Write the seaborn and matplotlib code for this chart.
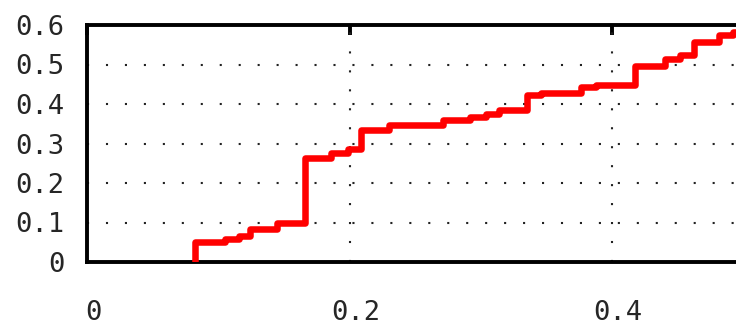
import matplotlib
matplotlib.use("Agg")
import matplotlib.pyplot as plt
from matplotlib.transforms import ScaledTranslation
import seaborn as sns
import pandas as pd

# Step curve: x positions of each jump and the level reached after it
jump_x = [0.082, 0.105, 0.116, 0.1245, 0.145, 0.1664, 0.186, 0.199, 0.209,
          0.2298, 0.271, 0.292, 0.304, 0.314, 0.335, 0.346, 0.376, 0.388,
          0.4176, 0.4405, 0.452, 0.4626, 0.481, 0.492]
levels = [0.050, 0.058, 0.066, 0.083, 0.100, 0.264, 0.276, 0.285, 0.334,
          0.346, 0.359, 0.368, 0.375, 0.385, 0.422, 0.429, 0.442, 0.4475,
          0.497, 0.514, 0.524, 0.556, 0.575, 0.583]
x_end = 0.5

x_ticks = [0, 0.2, 0.4]
x_tick_labels = ["0", "0.2", "0.4"]
y_ticks = [0, 0.1, 0.2, 0.3, 0.4, 0.5, 0.6]
y_tick_labels = ["0", "0.1", "0.2", "0.3", "0.4", "0.5", "0.6"]

sns.set_style("white")
plt.rcParams["font.family"] = ["DejaVu Sans Mono", "DejaVu Sans"]

# steps-pre: vertical rise at each jump, then flat until the next one
df = pd.DataFrame({"x": jump_x + [x_end], "y": [0.0] + levels})

fig = plt.figure(figsize=(7.36, 3.26), dpi=100)
ax = fig.add_axes([87 / 736, 1 - 262 / 326, 656.5 / 736, 237 / 326])

sns.lineplot(data=df, x="x", y="y", ax=ax, color="#ff0000", linewidth=4.7,
             drawstyle="steps-pre", estimator=None, sort=False, zorder=3)

ax.set_xlim(0, x_end)
ax.set_ylim(0, 0.6)
ax.set_xticks(x_ticks)
ax.set_xticklabels(x_tick_labels)
ax.set_yticks(y_ticks)
ax.set_yticklabels(y_tick_labels)
ax.set_xlabel("")
ax.set_ylabel("")

# dotted grid on interior ticks only
dot = dict(color="#222222", linewidth=1.5, linestyle=(0, (1, 8.1)), zorder=1)
for yv in y_ticks[1:-1]:
    ax.axhline(yv, **dot)
for xv in x_ticks[1:]:
    ax.axvline(xv, **dot)

for s in ax.spines.values():
    s.set_color("black")
    s.set_linewidth(2.8)

ax.tick_params(axis="y", direction="in", length=6, width=2.8, color="black",
               labelsize=19.5, pad=16, right=True)
ax.tick_params(axis="x", direction="in", length=7, width=2.8, color="black",
               labelsize=19.5, pad=27, top=True)

shift = ScaledTranslation(6 / 100, 0, fig.dpi_scale_trans)
for lab in ax.get_xticklabels():
    lab.set_transform(lab.get_transform() + shift)

fig.savefig("out.png", dpi=100)
